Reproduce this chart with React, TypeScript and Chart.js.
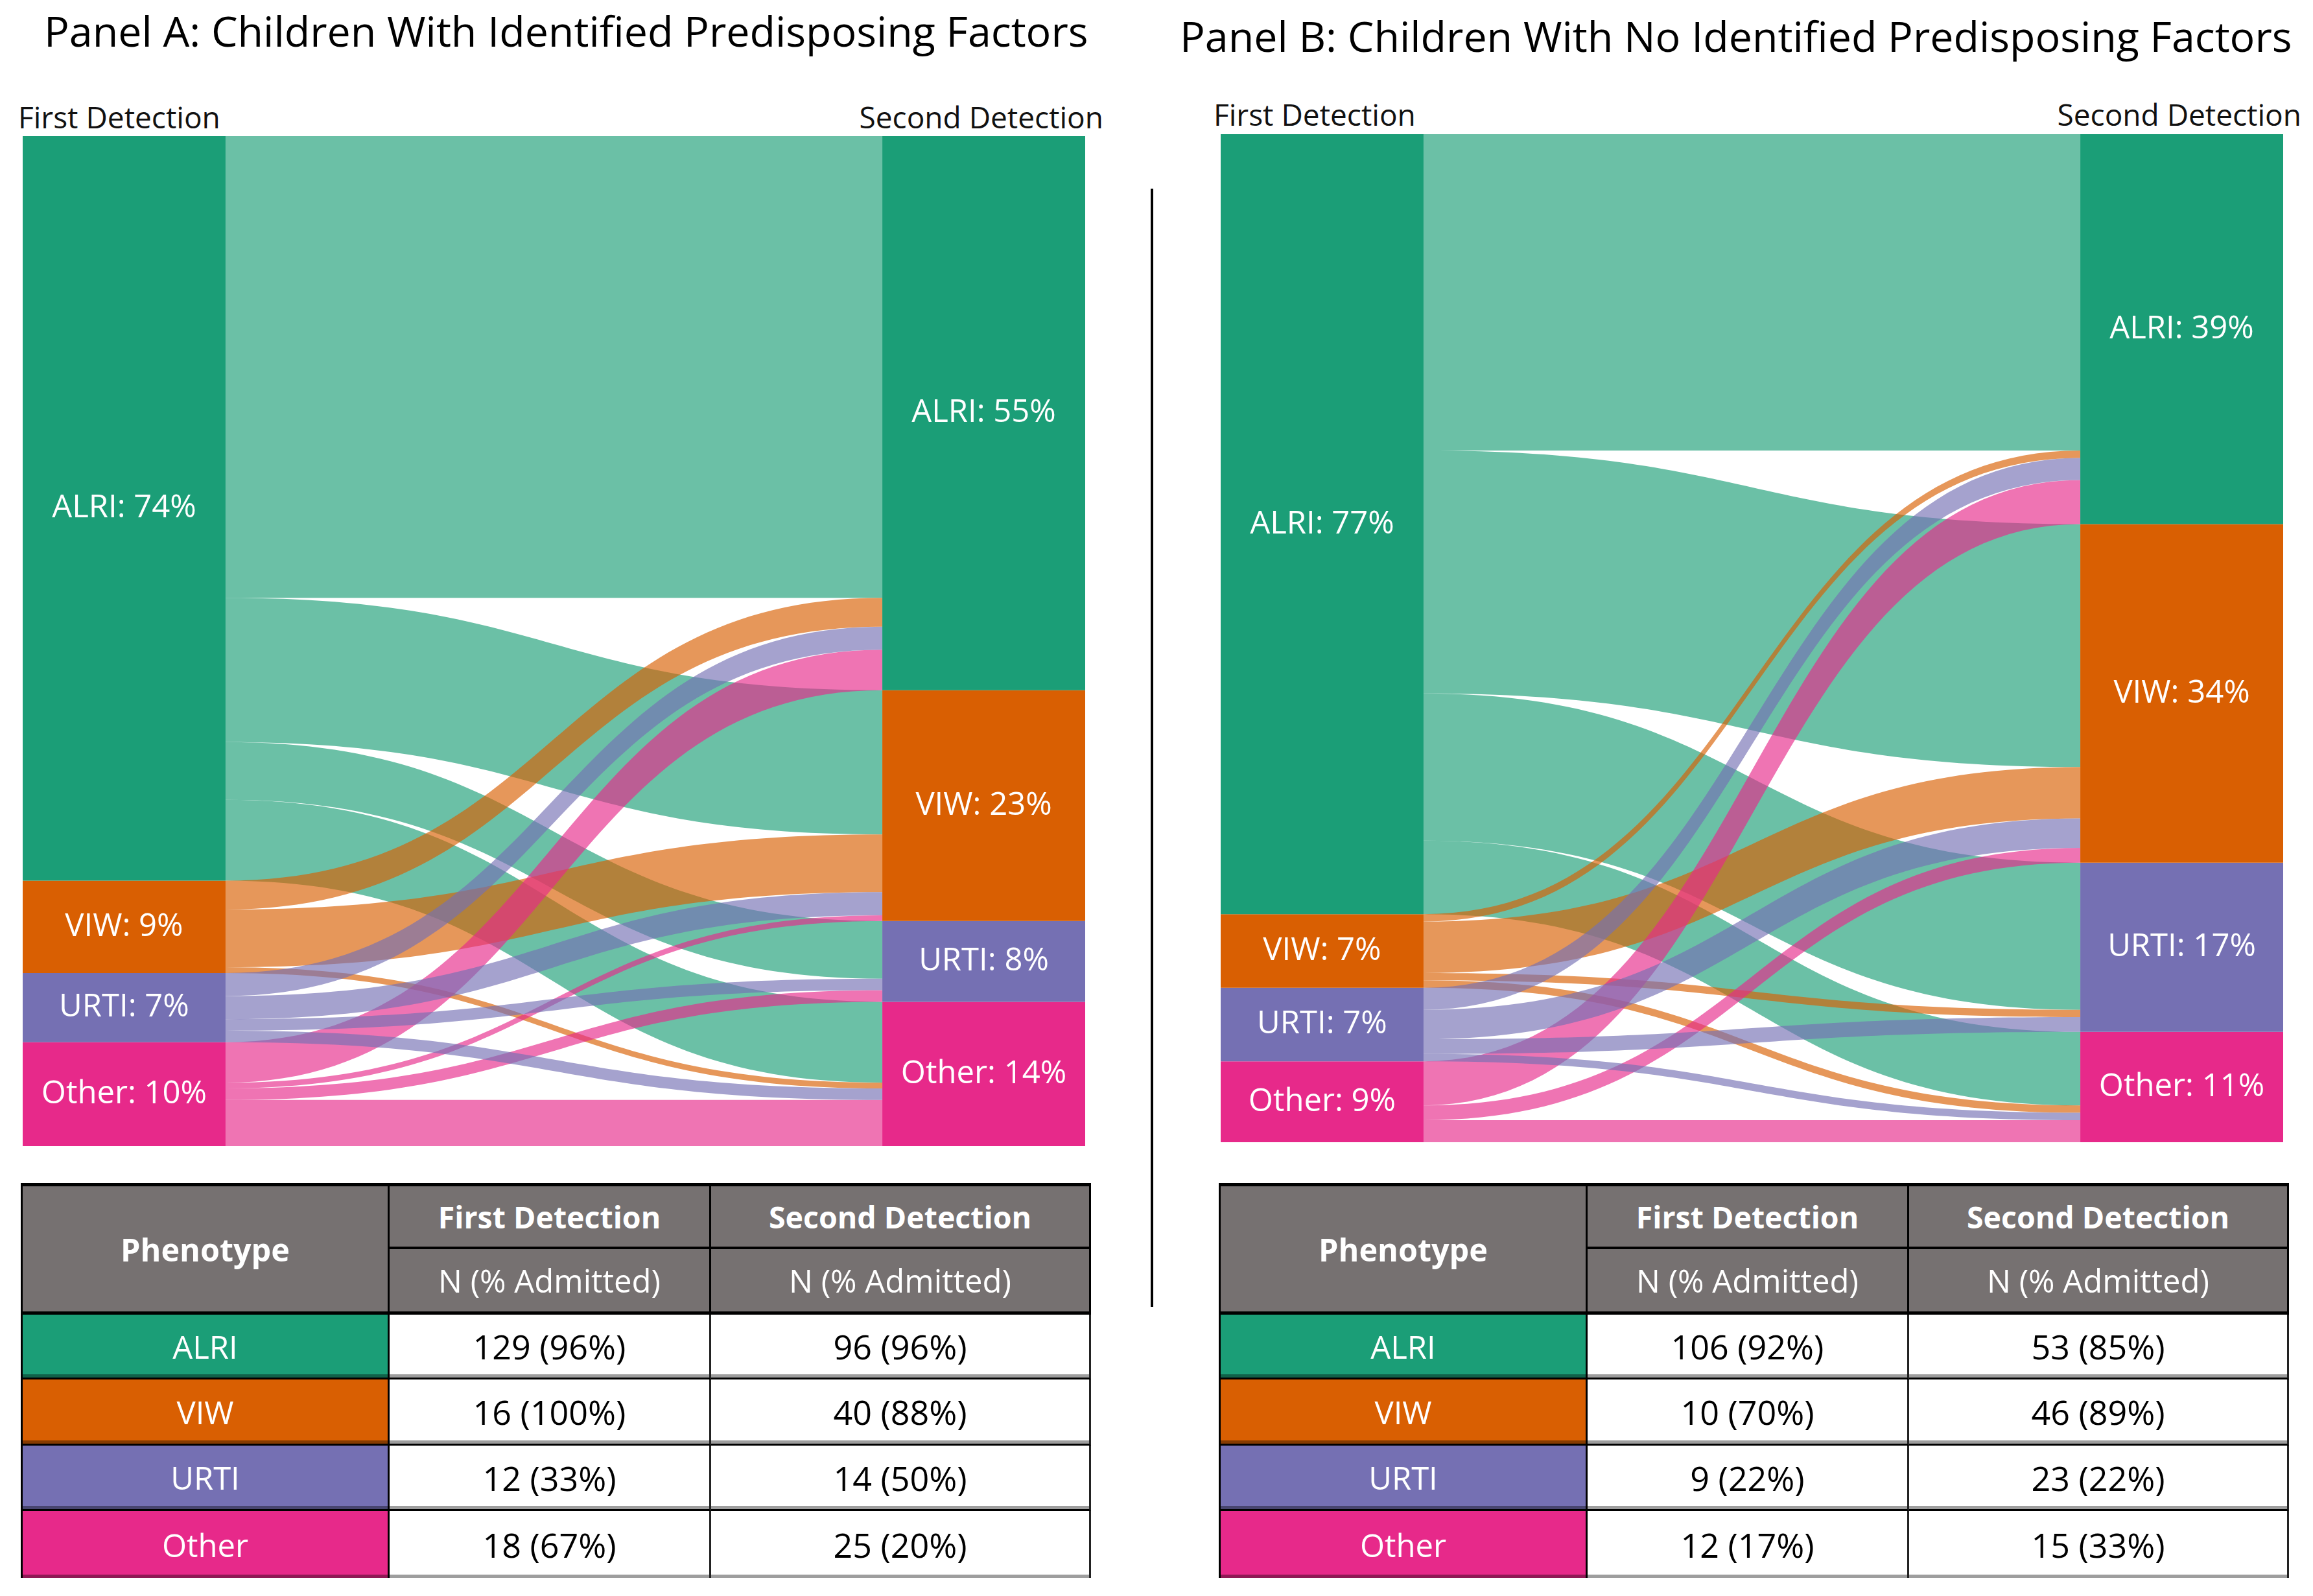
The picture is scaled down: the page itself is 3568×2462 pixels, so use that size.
import React, { useEffect, useRef } from 'react';
import { Chart, registerables } from 'chart.js';

Chart.register(...registerables);

// ---------- data ----------
const PHENOTYPES = ['ALRI', 'VIW', 'URTI', 'Other'];
const COLORS = ['#1b9e77', '#d95f02', '#7570b3', '#e7298a'];

// Panel A flows (first detection row -> second detection ALRI, VIW, URTI, Other)
const FLOWS_A_ALRI = [80, 25, 10, 14];
const FLOWS_A_VIW = [5, 10, 0, 1];
const FLOWS_A_URTI = [4, 4, 2, 2];
const FLOWS_A_OTHER = [7, 1, 2, 8];

// Panel B flows
const FLOWS_B_ALRI = [43, 33, 20, 10];
const FLOWS_B_VIW = [1, 7, 1, 1];
const FLOWS_B_URTI = [3, 4, 2, 1];
const FLOWS_B_OTHER = [6, 2, 0, 3];

const LABELS_A_FIRST = ['ALRI: 74%', 'VIW: 9%', 'URTI: 7%', 'Other: 10%'];
const LABELS_A_SECOND = ['ALRI: 55%', 'VIW: 23%', 'URTI: 8%', 'Other: 14%'];
const LABELS_B_FIRST = ['ALRI: 77%', 'VIW: 7%', 'URTI: 7%', 'Other: 9%'];
const LABELS_B_SECOND = ['ALRI: 39%', 'VIW: 34%', 'URTI: 17%', 'Other: 11%'];

const TABLE_A_FIRST = ['129 (96%)', '16 (100%)', '12 (33%)', '18 (67%)'];
const TABLE_A_SECOND = ['96 (96%)', '40 (88%)', '14 (50%)', '25 (20%)'];
const TABLE_B_FIRST = ['106 (92%)', '10 (70%)', '9 (22%)', '12 (17%)'];
const TABLE_B_SECOND = ['53 (85%)', '46 (89%)', '23 (22%)', '15 (33%)'];

const TITLE_A = 'Panel A: Children With Identified Predisposing Factors';
const TITLE_B = 'Panel B: Children With No Identified Predisposing Factors';

// ---------- styles ----------
const FONT = '"Open Sans", "Noto Sans", sans-serif';
const FLOW_ALPHA = 0.65;
const DRAW_ORDER = [0, 1, 3, 2];
const NODE_FRAC = 0.236;

function rgba(hex: string, a: number) {
  const n = parseInt(hex.slice(1), 16);
  return `rgba(${(n >> 16) & 255},${(n >> 8) & 255},${n & 255},${a})`;
}

type Box = { left: number; top: number; width: number; height: number };

function Sankey({ flows, firstLabels, secondLabels, box }: { flows: number[][]; firstLabels: string[]; secondLabels: string[]; box: Box }) {
  const ref = useRef<HTMLCanvasElement>(null);
  useEffect(() => {
    const firstTotals = flows.map((r) => r.reduce((a, b) => a + b, 0));
    const secondTotals = PHENOTYPES.map((_, j) => flows.reduce((a, r) => a + r[j], 0));
    const total = firstTotals.reduce((a, b) => a + b, 0);

    const srcOff: number[][] = [];
    let acc = 0;
    flows.forEach((row, i) => {
      srcOff[i] = [];
      row.forEach((v, j) => {
        srcOff[i][j] = acc;
        acc += v;
      });
    });
    const tgtOff: number[][] = flows.map(() => [0, 0, 0, 0]);
    acc = 0;
    for (let j = 0; j < PHENOTYPES.length; j++) {
      for (let i = 0; i < flows.length; i++) {
        tgtOff[i][j] = acc;
        acc += flows[i][j];
      }
    }

    const flowPlugin = {
      id: 'sankeyFlows',
      beforeDatasetsDraw(chart: any) {
        const { ctx } = chart;
        const y = chart.scales.y;
        const meta = chart.getDatasetMeta(0);
        const a = meta.data[0] as any;
        const b = meta.data[1] as any;
        const x0 = a.x + a.width / 2;
        const x1 = b.x - b.width / 2;
        const xm = (x0 + x1) / 2;
        ctx.save();
        for (const i of DRAW_ORDER) {
          for (let j = 0; j < PHENOTYPES.length; j++) {
            const v = flows[i][j];
            if (!v) continue;
            const s0 = y.getPixelForValue(srcOff[i][j]);
            const s1 = y.getPixelForValue(srcOff[i][j] + v);
            const t0 = y.getPixelForValue(tgtOff[i][j]);
            const t1 = y.getPixelForValue(tgtOff[i][j] + v);
            ctx.beginPath();
            ctx.moveTo(x0, s0);
            ctx.bezierCurveTo(xm, s0, xm, t0, x1, t0);
            ctx.lineTo(x1, t1);
            ctx.bezierCurveTo(xm, t1, xm, s1, x0, s1);
            ctx.closePath();
            ctx.fillStyle = rgba(COLORS[i], FLOW_ALPHA);
            ctx.fill();
          }
        }
        ctx.restore();
      },
    };

    const labelPlugin = {
      id: 'nodeLabels',
      afterDatasetsDraw(chart: any) {
        const { ctx } = chart;
        ctx.save();
        ctx.fillStyle = '#ffffff';
        ctx.font = `49px ${FONT}`;
        ctx.textAlign = 'center';
        ctx.textBaseline = 'middle';
        chart.data.datasets.forEach((_: any, k: number) => {
          const meta = chart.getDatasetMeta(k);
          meta.data.forEach((el: any, idx: number) => {
            const txt = idx === 0 ? firstLabels[k] : secondLabels[k];
            ctx.fillText(txt, el.x, (el.y + el.base) / 2);
          });
        });
        ctx.restore();
      },
    };

    const chart = new Chart(ref.current as HTMLCanvasElement, {
      type: 'bar',
      data: {
        datasets: PHENOTYPES.map((p, k) => ({
          label: p,
          data: [
            { x: 0, y: firstTotals[k] },
            { x: 1, y: secondTotals[k] },
          ],
          backgroundColor: COLORS[k],
          borderWidth: 0,
          barPercentage: 1,
          categoryPercentage: NODE_FRAC,
          clip: false,
        })) as any,
      },
      options: {
        animation: false,
        responsive: true,
        maintainAspectRatio: false,
        devicePixelRatio: 1,
        layout: { padding: 0 },
        plugins: { legend: { display: false }, tooltip: { enabled: false }, title: { display: false } },
        scales: {
          x: {
            type: 'linear',
            min: -NODE_FRAC / 2,
            max: 1 + NODE_FRAC / 2,
            offset: false,
            stacked: true,
            display: false,
            grid: { offset: false },
            afterBuildTicks: (s: any) => {
              s.ticks = [{ value: 0 }, { value: 1 }];
            },
          },
          y: { type: 'linear', min: 0, max: total, reverse: true, stacked: true, display: false },
        },
      } as any,
      plugins: [flowPlugin, labelPlugin],
    });
    return () => chart.destroy();
  }, [flows, firstLabels, secondLabels]);

  return (
    <div style={{ position: 'absolute', left: box.left, top: box.top, width: box.width, height: box.height }}>
      <canvas ref={ref} />
    </div>
  );
}

const HEADER_BG = '#767171';
const COL_W = [569, 496, 586];
const ROW_H = [102, 101, 100, 102, 101, 103];

function PhenoTable({ left, top, first, second }: { left: number; top: number; first: string[]; second: string[] }) {
  const base: React.CSSProperties = {
    boxSizing: 'border-box',
    display: 'flex',
    alignItems: 'center',
    justifyContent: 'center',
    whiteSpace: 'nowrap',
    fontFamily: FONT,
  };
  const hdr: React.CSSProperties = { ...base, background: HEADER_BG, color: '#fff', borderRight: '3px solid #000' };
  const cells: React.ReactNode[] = [];
  cells.push(
    <div key="ph" style={{ ...hdr, gridColumn: '1', gridRow: '1 / 3', borderTop: '5px solid #000', borderLeft: '3px solid #000', borderBottom: '5px solid #000', fontWeight: 700, fontSize: 48.5 }}>
      Phenotype
    </div>
  );
  cells.push(
    <div key="fd" style={{ ...hdr, gridColumn: '2', gridRow: '1', borderTop: '5px solid #000', borderBottom: '4px solid #000', fontWeight: 700, fontSize: 46.5 }}>
      First Detection
    </div>
  );
  cells.push(
    <div key="sd" style={{ ...hdr, gridColumn: '3', gridRow: '1', borderTop: '5px solid #000', borderBottom: '4px solid #000', fontWeight: 700, fontSize: 46.5 }}>
      Second Detection
    </div>
  );
  cells.push(
    <div key="n1" style={{ ...hdr, gridColumn: '2', gridRow: '2', borderBottom: '5px solid #000', fontSize: 49 }}>
      N (% Admitted)
    </div>
  );
  cells.push(
    <div key="n2" style={{ ...hdr, gridColumn: '3', gridRow: '2', borderBottom: '5px solid #000', fontSize: 49 }}>
      N (% Admitted)
    </div>
  );
  PHENOTYPES.forEach((p, k) => {
    const row = String(k + 3);
    const last = k === PHENOTYPES.length - 1;
    const bottom = last ? 'none' : '3px solid #000';
    const shadow = 'inset 0 -5px 0 rgba(0,0,0,0.38)';
    cells.push(
      <div key={'p' + k} style={{ ...base, gridColumn: '1', gridRow: row, background: COLORS[k], color: '#fff', fontSize: 49, borderLeft: '3px solid #000', borderRight: '3px solid #000', borderBottom: bottom, boxShadow: shadow }}>
        {p}
      </div>
    );
    cells.push(
      <div key={'f' + k} style={{ ...base, gridColumn: '2', gridRow: row, background: '#fff', color: '#000', fontSize: 52, borderRight: '3px solid #222', borderBottom: bottom, boxShadow: shadow }}>
        {first[k]}
      </div>
    );
    cells.push(
      <div key={'s' + k} style={{ ...base, gridColumn: '3', gridRow: row, background: '#fff', color: '#000', fontSize: 52, borderRight: '3px solid #222', borderBottom: bottom, boxShadow: shadow }}>
        {second[k]}
      </div>
    );
  });
  return (
    <div
      style={{
        position: 'absolute',
        left,
        top,
        display: 'grid',
        gridTemplateColumns: COL_W.map((w) => w + 'px').join(' '),
        gridTemplateRows: ROW_H.map((h) => h + 'px').join(' '),
      }}
    >
      {cells}
    </div>
  );
}

function Text({ children, style }: { children: React.ReactNode; style: React.CSSProperties }) {
  return (
    <div style={{ position: 'absolute', whiteSpace: 'nowrap', lineHeight: 1, fontFamily: FONT, color: '#000', ...style }}>{children}</div>
  );
}

export default function App() {
  const flowsA = [FLOWS_A_ALRI, FLOWS_A_VIW, FLOWS_A_URTI, FLOWS_A_OTHER];
  const flowsB = [FLOWS_B_ALRI, FLOWS_B_VIW, FLOWS_B_URTI, FLOWS_B_OTHER];
  return (
    <div style={{ position: 'absolute', left: 0, top: 0, width: 3568, height: 2462, background: '#fff', overflow: 'hidden' }}>
      <Text style={{ left: 68, top: 15, fontSize: 64.5 }}>{TITLE_A}</Text>
      <Text style={{ left: 1820, top: 23, fontSize: 64.5 }}>{TITLE_B}</Text>

      <Text style={{ left: 28, top: 157, fontSize: 46, color: '#111' }}>First Detection</Text>
      <Text style={{ right: 3568 - 1702, top: 157, fontSize: 46, color: '#111' }}>Second Detection</Text>
      <Text style={{ left: 1872, top: 153, fontSize: 46, color: '#111' }}>First Detection</Text>
      <Text style={{ right: 3568 - 3550, top: 153, fontSize: 46, color: '#111' }}>Second Detection</Text>

      <Sankey flows={flowsA} firstLabels={LABELS_A_FIRST} secondLabels={LABELS_A_SECOND} box={{ left: 35, top: 210, width: 1639, height: 1558 }} />
      <Sankey flows={flowsB} firstLabels={LABELS_B_FIRST} secondLabels={LABELS_B_SECOND} box={{ left: 1883, top: 207, width: 1639, height: 1555 }} />

      <div style={{ position: 'absolute', left: 1775, top: 291, width: 4, height: 1725, background: '#000' }} />

      <PhenoTable left={32} top={1825} first={TABLE_A_FIRST} second={TABLE_A_SECOND} />
      <PhenoTable left={1880} top={1825} first={TABLE_B_FIRST} second={TABLE_B_SECOND} />
    </div>
  );
}
